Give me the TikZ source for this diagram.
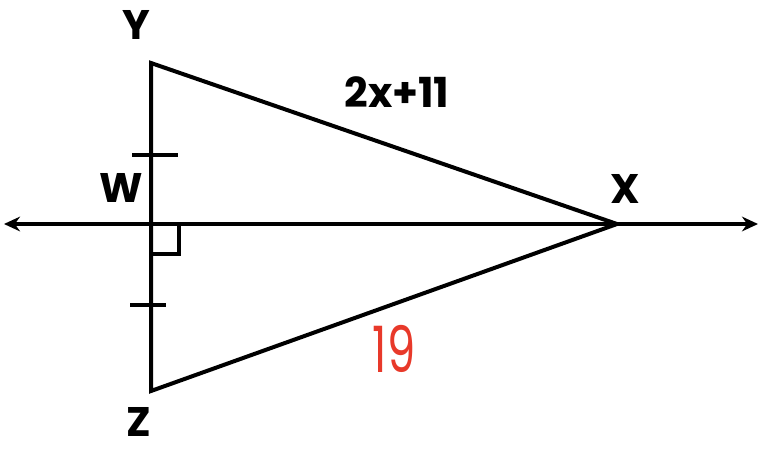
\documentclass[tikz,border=0pt]{standalone}
\usepackage{fontspec}
\setmainfont{Poppins}
\usetikzlibrary{arrows.meta}
\definecolor{mark19}{HTML}{E8392A}
\tikzset{
  edge/.style={line width=3pt, line cap=round, line join=miter},
  vlabel/.style={inner sep=0pt, anchor=base, font=\fontsize{31}{34}\selectfont\bfseries},
}

\begin{document}
\begin{tikzpicture}[x=0.75pt,y=-0.75pt]
\useasboundingbox (0,0) rectangle (759,450);
\coordinate (Y) at (151,63);
\coordinate (W) at (151,224);
\coordinate (X) at (617,224);
\coordinate (Z) at (151,391);
\coordinate (Lend) at (4,224);
\coordinate (Rend) at (758,224);
% axis line through W and X
\draw[line width=3pt, {Stealth[length=12pt,width=11pt]}-{Stealth[length=12pt,width=11pt]}] (Lend) -- (Rend);
% triangle
\draw[edge] (Y) -- (X) -- (Z) -- cycle;
% congruence ticks
\draw[line width=3pt] (132,155) -- (178,155);
\draw[line width=3pt] (130,305) -- (166,305);
% right angle mark
\draw[line width=2.6pt] (W) ++(28,0) -- ++(0,30) -- ++(-28,0);
\node[vlabel] (labY) at (136,39) {Y};
\node[vlabel] (labW) at (121,202) {W};
\node[vlabel] (labX) at (625,203) {X};
\node[vlabel] (labZ) at (139,436) {Z};
\node[vlabel] (labYX) at (397,107) {2x+11};
\node[inner sep=0pt, anchor=base, text=mark19, font=\fontsize{48}{52}\selectfont] (labZX) at (394,372) {\scalebox{0.7}[1]{19}};
\end{tikzpicture}
\end{document}
